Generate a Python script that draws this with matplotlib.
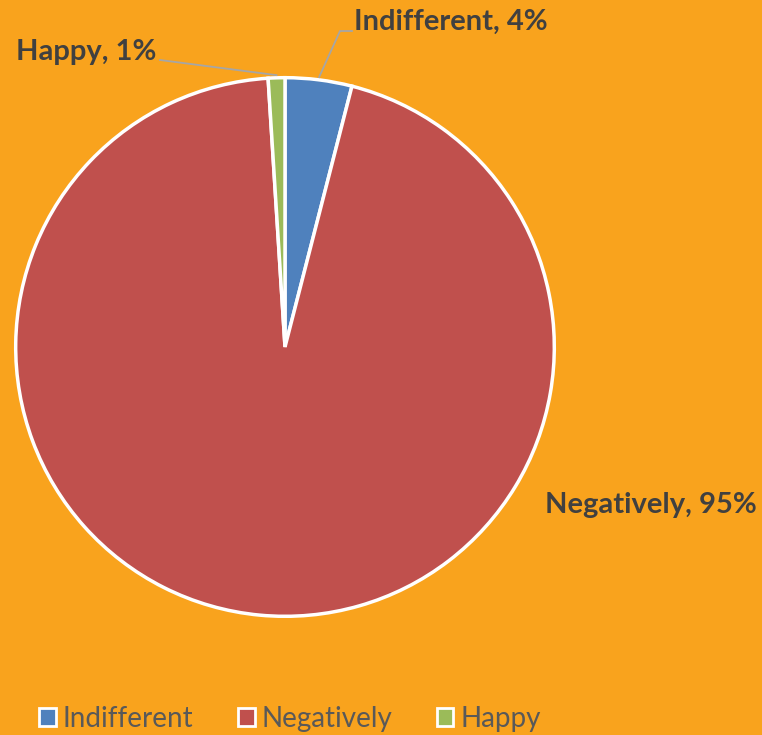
import numpy as np
import matplotlib.pyplot as plt

plt.rcParams['font.family'] = ['Lato', 'DejaVu Sans']

# data
labels = ['Indifferent', 'Negatively', 'Happy']
values = [4, 95, 1]
colors = ['#4F81BD', '#C0504D', '#9BBB59']
bg = '#F9A31D'

W, H = 762, 735
fig = plt.figure(figsize=(W / 100, H / 100), dpi=100, facecolor=bg)

# pie box: centre (285, 347) px, radius 272 px
cx, cy, r = 285, 347, 272
ax = fig.add_axes([(cx - r) / W, (H - cy - r) / H, 2 * r / W, 2 * r / H])
ax.set_facecolor(bg)

wedges, _ = ax.pie(values, colors=colors, startangle=90, counterclock=False,
                   radius=1, wedgeprops=dict(edgecolor='white', linewidth=2.5))
ax.set_xlim(-1.01, 1.01)
ax.set_ylim(-1.01, 1.01)
ax.set_aspect('equal')
ax.axis('off')

# data labels, text positions in figure pixels (from top-left)
label_pos = {'Indifferent': (354, 22, 'left'),
             'Happy': (156, 52, 'right'),
             'Negatively': (545, 505, 'left')}
leader = {'Indifferent': [(340, 31), (352, 31)],
          'Happy': [(160, 60)]}

for w, lab, v in zip(wedges, labels, values):
    mid = np.deg2rad((w.theta1 + w.theta2) / 2)
    tx, ty, ha = label_pos[lab]
    fig.text(tx / W, 1 - ty / H, f'{lab}, {v}%', ha=ha, va='center',
             fontsize=21, fontweight='bold', color='#404040')
    if lab in leader:
        ex = cx + r * np.cos(mid)
        ey = cy - r * np.sin(mid)
        pts = [(ex, ey)] + leader[lab]
        xs = [p[0] / W for p in pts]
        ys = [1 - p[1] / H for p in pts]
        fig.add_artist(plt.Line2D(xs, ys, color='#A6A6A6', lw=1.3))

leg = fig.legend(wedges, labels, loc='center', bbox_to_anchor=(290 / W, 1 - 719 / H),
                 ncol=3, frameon=False, fontsize=20, labelcolor='#595959',
                 handlelength=0.6, handleheight=0.6, handletextpad=0.25,
                 columnspacing=1.6, borderpad=0)
for h in leg.legend_handles:
    h.set_edgecolor('white')
    h.set_linewidth(2)

fig.savefig('out.png', dpi=100, facecolor=bg)
